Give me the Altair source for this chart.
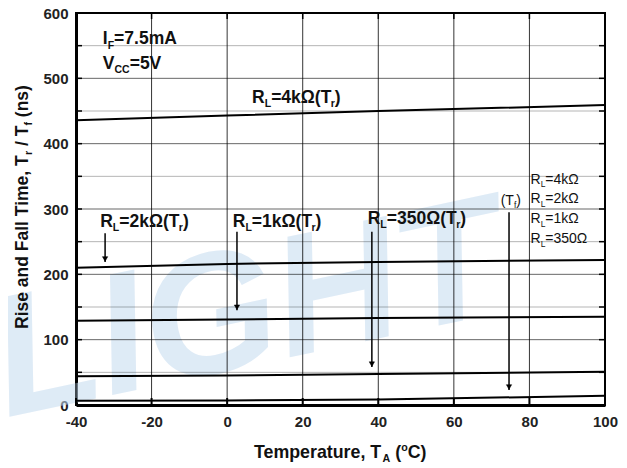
import altair as alt
import pandas as pd

FONT = "Liberation Sans"
W, H = 529, 392

# ---- data ----
temps = [-40, 0, 40, 100]
rl4k_tr = [436, 443, 450, 459]
rl2k_tr = [210, 216, 219, 222]
rl1k_tr = [129, 131, 133, 135]
rl350_tr = [44, 45, 47.5, 51]
tf_all = [6.5, 7, 8.5, 14]

x_ticks = [-40, -20, 0, 20, 40, 60, 80, 100]
y_ticks = [0, 100, 200, 300, 400, 500, 600]
y_minor = [50, 150, 250, 350, 450, 550]
y_all = sorted(y_ticks + y_minor)

# arrows: x, start y, tip y
arrow_x = [-32.3, 2.6, 38.3, 74.6]
arrow_y0 = [263, 265, 265, 295]
arrow_y1 = [219, 145, 58, 23]

rows = []
for name, vals in [("4k", rl4k_tr), ("2k", rl2k_tr), ("1k", rl1k_tr),
                   ("350", rl350_tr), ("tf", tf_all)]:
    for t, v in zip(temps, vals):
        rows.append({"series": name, "T": t, "v": v})
lines_df = pd.DataFrame(rows)

xs = alt.Scale(domain=[-40, 100], nice=False, zero=False)
ys = alt.Scale(domain=[0, 600], nice=False, zero=False)

AX_X = alt.Axis(values=x_ticks, grid=False, ticks=False, domain=True,
                domainColor="black", domainWidth=3,
                labelFont=FONT, labelFontSize=15, labelFontWeight="bold",
                labelColor="#222222", labelPadding=9, title=None,
                labelFlush=False, labelExpr="'' + datum.value")
AX_Y = alt.Axis(values=y_ticks, grid=False, ticks=False, domain=True,
                domainColor="black", domainWidth=3,
                labelFont=FONT, labelFontSize=15, labelFontWeight="bold",
                labelColor="#222222", labelPadding=8, title=None,
                labelFlush=False, labelExpr="'' + datum.value")


def X(field):
    return alt.X(field, scale=xs, axis=AX_X)


def Y(field):
    return alt.Y(field, scale=ys, axis=AX_Y)


BOLD = {'R': 722, 'L': 611, '=': 584, 'k': 556, 'Ω': 768, '(': 333, ')': 333,
        'T': 611, 'r': 389, 'I': 278, 'F': 611, '.': 278, 'm': 889, 'A': 722,
        'V': 667, 'C': 722, ' ': 278, ',': 278, '/': 278, 'f': 333, 'n': 611,
        's': 556, 'e': 556, 'i': 278, 'a': 556, 'd': 611, 'l': 278, 'p': 611,
        'u': 611, 't': 333, 'o': 611, 'c': 556}
REG = {'R': 722, 'L': 556, '=': 584, 'k': 500, 'Ω': 768, '(': 333, ')': 333,
       'T': 611, 'r': 333, 'f': 278, ' ': 278}


def text_width(txt, size, bold):
    table = BOLD if bold else REG
    return sum(table.get(c, 556) for c in txt) * size / 1000.0


def rich(x, y, segs, size, bold=True, angle=0, pixel=False, color="#111111"):
    layers = []
    off = 0.0
    for txt, kind in segs:
        s = size if kind == "n" else size * 0.6
        if kind == "n":
            dy = 0
        elif kind == "sub":
            dy = size * 0.24
        else:
            dy = -size * 0.42
        lead = len(txt) - len(txt.lstrip(" "))
        shown = txt.strip(" ")
        start = off + text_width(" " * lead, s, bold)
        df = pd.DataFrame({"x": [x], "y": [y], "t": [shown]})
        m = alt.Chart(df).mark_text(
            align="left", baseline="alphabetic", dx=start, dy=dy, fontSize=s,
            fontWeight="bold" if bold else "normal", font=FONT, angle=angle,
            color=color)
        if pixel:
            enc = m.encode(x=alt.value(x), y=alt.value(y), text="t:N")
        else:
            enc = m.encode(x=X("x:Q"), y=Y("y:Q"), text="t:N")
        layers.append(enc)
        off += text_width(txt, s, bold)
    return layers


# watermark
wm = alt.Chart(pd.DataFrame({"t": ["LIGHT"]})).mark_text(
    align="center", baseline="middle", fontSize=172, fontWeight="bold",
    fontStyle="italic", font=FONT, angle=348, color="#c4dbf0", opacity=0.55
).encode(x=alt.value(172), y=alt.value(300), text="t:N")

# grid lines: thin solid black strokes (render as grey)
hgrid_minor = alt.Chart(pd.DataFrame({"gm": y_minor})).mark_rule(
    color="black", strokeWidth=0.3).encode(
    y=Y("gm:Q"), x=alt.value(0), x2=alt.value(W))
hgrid_major = alt.Chart(pd.DataFrame({"gy": y_ticks})).mark_rule(
    color="black", strokeWidth=0.6).encode(
    y=Y("gy:Q"), x=alt.value(0), x2=alt.value(W))
vgrid = alt.Chart(pd.DataFrame({"gx": x_ticks})).mark_rule(
    color="black", strokeWidth=0.8).encode(
    x=X("gx:Q"), y=alt.value(0), y2=alt.value(H))

base_lines = alt.Chart(lines_df).mark_line(color="black", strokeWidth=2).encode(
    x=X("T:Q"), y=Y("v:Q"), detail="series:N")

ydf = pd.DataFrame({"yt": y_all})
xdf = pd.DataFrame({"xt": x_ticks})
tick_left = alt.Chart(ydf).mark_rule(color="black", strokeWidth=1.5).encode(
    y=Y("yt:Q"), x=alt.value(0), x2=alt.value(6))
tick_right = alt.Chart(ydf).mark_rule(color="black", strokeWidth=1.5).encode(
    y=Y("yt:Q"), x=alt.value(W - 6), x2=alt.value(W))
tick_top = alt.Chart(xdf).mark_rule(color="black", strokeWidth=1.5).encode(
    x=X("xt:Q"), y=alt.value(1), y2=alt.value(6))
tick_bot = alt.Chart(xdf).mark_rule(color="black", strokeWidth=2).encode(
    x=X("xt:Q"), y=alt.value(H - 7), y2=alt.value(H))

adf = pd.DataFrame({"ax": arrow_x, "y0": arrow_y0, "y1": arrow_y1})
arrow_shaft = alt.Chart(adf).mark_rule(color="black", strokeWidth=1.5).encode(
    x=X("ax:Q"), y=Y("y0:Q"), y2="y1:Q")
arrow_head = alt.Chart(adf).mark_point(
    shape="triangle-down", filled=True, fill="black", stroke="black",
    strokeWidth=0.5, size=28, opacity=1).encode(
    x=X("ax:Q"), y=Y("y1:Q"), yOffset=alt.value(-3))

ann = []
ann += rich(6.6, 462, [("R", "n"), ("L", "sub"), ("=4kΩ(T", "n"), ("r", "sub"), (")", "n")], 17.5)
ann += rich(-33.6, 273, [("R", "n"), ("L", "sub"), ("=2kΩ(T", "n"), ("r", "sub"), (")", "n")], 17.5)
ann += rich(1.5, 273, [("R", "n"), ("L", "sub"), ("=1kΩ(T", "n"), ("r", "sub"), (")", "n")], 17.5)
ann += rich(37.2, 277, [("R", "n"), ("L", "sub"), ("=350Ω(T", "n"), ("r", "sub"), (")", "n")], 17.5)
ann += rich(-32.9, 552, [("I", "n"), ("F", "sub"), ("=7.5mA", "n")], 17.5)
ann += rich(-32.9, 515, [("V", "n"), ("CC", "sub"), ("=5V", "n")], 17.5)
ann += rich(72.4, 306, [("(T", "n"), ("f", "sub"), (")", "n")], 14, bold=False)
for yy, lab in zip([339, 308.5, 278, 247.5], ["=4kΩ", "=2kΩ", "=1kΩ", "=350Ω"]):
    ann += rich(80.3, yy, [("R", "n"), ("L", "sub"), (lab, "n")], 14, bold=False)

# axis titles (with subscripts)
ann += rich(178, 445, [("Temperature, T", "n"), ("A", "sub"), (" (", "n"), ("o", "sup"), ("C)", "n")],
            17.8, pixel=True)
ann += rich(-48.5, 316, [("Rise and Fall Time, T", "n"), ("r", "sub"), (" / T", "n"), ("f", "sub"), (" (ns)", "n")],
            17.5, angle=270, pixel=True)

chart = alt.layer(
    wm, hgrid_minor, hgrid_major, vgrid, base_lines, tick_left, tick_right,
    tick_top, tick_bot, arrow_shaft, arrow_head, *ann
).properties(
    width=W, height=H, background="white",
    autosize=alt.AutoSizeParams(type="none"),
    padding={"left": 68, "top": 5, "right": 14, "bottom": 60},
).configure_view(stroke="black", strokeWidth=2)

chart.save("out.html", embed_options={"renderer": "svg", "actions": False})
